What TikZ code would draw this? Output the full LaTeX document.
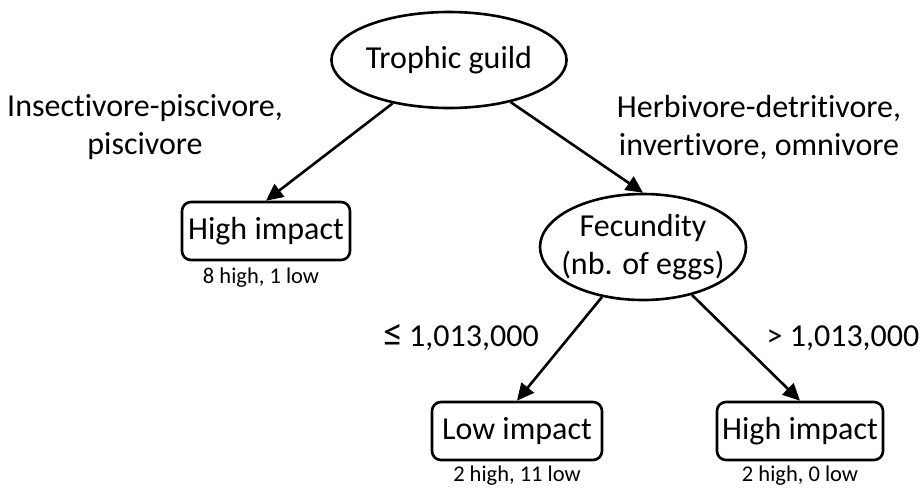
\documentclass[tikz,border=0pt]{standalone}
\usepackage{fontspec}
\setmainfont[Ligatures={NoCommon}]{Carlito}
\usetikzlibrary{arrows.meta,shapes.geometric}
\begin{document}
\begin{tikzpicture}[x=1pt,y=-1pt,
  every node/.style={font=\fontsize{32}{38}\selectfont},
  oval/.style={draw,ellipse,line width=2.6pt,inner sep=0pt,align=center},
  leaf/.style={draw,rounded corners=9pt,line width=2.6pt,minimum height=58pt,inner sep=2pt},
  small/.style={font=\fontsize{22.5}{26}\selectfont},
  lbl/.style={align=center},
  arr/.style={-{Triangle[length=17pt,width=16pt]},line width=2.6pt}]
\useasboundingbox (0,0) rectangle (924,488);
\node[oval,minimum width=234pt,minimum height=96pt] (root) at (449,60) {Trophic guild};
\node[leaf,minimum width=168pt] (hi1) at (266,231) {High impact};
\node[small] (c1) at (261,278) {8 high, 1 low};
\node[oval,inner xsep=-14pt,minimum width=206pt,minimum height=106pt] (fec) at (643,247) {Fecundity\\(nb. of eggs)};
\node[leaf,minimum width=170pt] (lo) at (517,431) {Low impact};
\node[small] (c2) at (517,476) {2 high, 11 low};
\node[leaf,minimum width=166pt] (hi2) at (800,431) {High impact};
\node[small] (c3) at (800,476) {2 high, 0 low};
\node[lbl] (l1) at (145,127) {Insectivore-piscivore,\\piscivore};
\node[lbl] (l2) at (759,127) {Herbivore-detritivore,\\invertivore, omnivore};
\node (l3) at (461,338) {{\fontsize{40}{38}\selectfont ≤}\kern6pt 1,013,000};
\node (l4) at (843,338) {> 1,013,000};
\draw[arr] (root) -- (hi1.north);
\draw[arr] (root) -- (fec.north);
\draw[arr] (fec) -- (lo.north);
\draw[arr] (fec) -- (hi2.north);
\end{tikzpicture}
\end{document}
